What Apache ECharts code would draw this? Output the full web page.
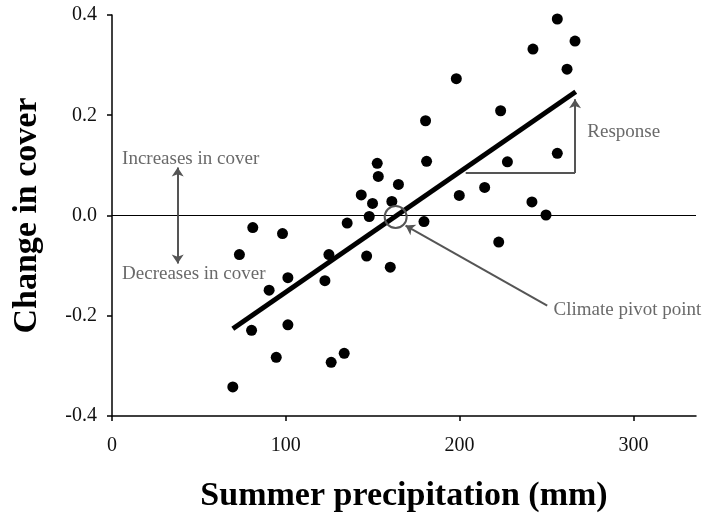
<!DOCTYPE html>
<html>
<head>
<meta charset="utf-8">
<script src="https://cdn.jsdelivr.net/npm/echarts@6/dist/echarts.min.js"></script>
<style>html,body{margin:0;padding:0;background:#fff}#c{width:702px;height:518px}</style>
</head>
<body>
<div id="c"></div>
<script>
// Data
const precip = [69.5, 73.3, 81.0, 80.3, 90.4, 94.5, 98.1, 101.2, 101.2, 126.1, 133.6, 122.5, 124.8, 135.3, 146.5, 148.0, 149.9, 160.1, 161.0, 152.6, 153.2, 143.4, 164.8, 256.2, 266.4, 242.2, 261.8, 198.1, 180.4, 223.6, 181.0, 227.5, 256.2, 214.4, 199.8, 241.6, 249.7, 179.5, 222.5];
const coverChange = [-0.342, -0.078, -0.024, -0.229, -0.149, -0.283, -0.036, -0.124, -0.218, -0.293, -0.275, -0.130, -0.078, -0.015, -0.081, -0.002, 0.024, -0.103, 0.028, 0.104, 0.078, 0.041, 0.062, 0.392, 0.348, 0.332, 0.292, 0.273, 0.189, 0.209, 0.108, 0.107, 0.124, 0.056, 0.040, 0.027, 0.001, -0.012, -0.053];
const fitX = [69.5, 266.8];
const fitY = [-0.226, 0.247];
const pivot = [163.2, -0.003];
const xTicks = [0, 100, 200, 300];
const yTicks = [-0.4, -0.2, 0.0, 0.2, 0.4];
const annotations = [
  {text: 'Increases in cover', x: 5.8, y: 0.112},
  {text: 'Decreases in cover', x: 5.8, y: -0.116},
  {text: 'Response', x: 273.5, y: 0.166},
  {text: 'Climate pivot point', x: 254, y: -0.189}
];

const pts = precip.map((x, i) => [x, coverChange[i]]);
const fit = fitX.map((x, i) => [x, fitY[i]]);
const gray = '#444';
const serif = '"Liberation Serif", "Times New Roman", serif';

const chart = echarts.init(document.getElementById('c'));
chart.setOption({
  animation: false,
  grid: {left: 112, right: 6, top: 15, bottom: 101, containLabel: false},
  xAxis: {
    type: 'value', min: 0, max: 336, interval: 100,
    axisLine: {onZero: false, lineStyle: {color: '#000', width: 1.5}},
    axisTick: {show: true, length: 5, inside: false, lineStyle: {color: '#000', width: 1.5}},
    splitLine: {show: false},
    axisLabel: {
      color: '#111', fontFamily: serif, fontSize: 20, margin: 20, showMaxLabel: false,
      formatter: v => xTicks.includes(v) ? String(v) : ''
    },
    name: 'Summer precipitation (mm)', nameLocation: 'middle', nameGap: 63,
    nameTextStyle: {fontFamily: serif, fontWeight: 'bold', fontSize: 34, color: '#000'}
  },
  yAxis: {
    type: 'value', min: -0.4, max: 0.4, interval: 0.2,
    axisLine: {show: true, onZero: false, lineStyle: {color: '#000', width: 1.5}},
    axisTick: {show: true, length: 5, lineStyle: {color: '#000', width: 1.5}},
    splitLine: {show: false},
    axisLabel: {
      color: '#111', fontFamily: serif, fontSize: 20, margin: 15,
      formatter: v => yTicks.some(t => Math.abs(t - v) < 1e-9) ? v.toFixed(1) : ''
    },
    name: 'Change in cover', nameLocation: 'middle', nameGap: 68,
    nameTextStyle: {fontFamily: serif, fontWeight: 'bold', fontSize: 34, color: '#000'}
  },
  series: [
    {
      type: 'scatter', data: pts, symbolSize: 11,
      itemStyle: {color: '#000', opacity: 1}, z: 3,
      markLine: {
        silent: true, symbol: 'none',
        lineStyle: {color: '#000', width: 1, type: 'solid'},
        label: {show: false},
        data: [{yAxis: 0}]
      }
    },
    {
      type: 'line', data: fit, symbol: 'none',
      lineStyle: {color: '#000', width: 5}, z: 4
    },
    {
      type: 'scatter', data: [pivot], symbolSize: 22, z: 5,
      itemStyle: {color: 'rgba(0,0,0,0)', borderColor: '#555', borderWidth: 2, opacity: 1},
      markLine: {
        silent: true, symbol: ['none', 'arrow'], symbolSize: 9,
        lineStyle: {color: '#555', width: 2, type: 'solid'},
        label: {show: false},
        data: [
          [{coord: [37.8, 0]}, {coord: [37.8, 0.096]}],
          [{coord: [37.8, 0]}, {coord: [37.8, -0.096]}],
          [{coord: [250.4, -0.180]}, {coord: [168.9, -0.020]}],
          [{coord: [266.4, 0.085]}, {coord: [266.4, 0.232]}],
          [{coord: [203.5, 0.085], symbol: 'none'}, {coord: [266.4, 0.085], symbol: 'none'}]
        ]
      }
    },
    {
      type: 'scatter', symbolSize: 0, z: 6, silent: true,
      data: annotations.map(a => ({value: [a.x, a.y], name: a.text})),
      itemStyle: {color: 'rgba(0,0,0,0)'},
      label: {
        show: true, position: 'right', distance: 0, formatter: p => p.name,
        fontFamily: serif, fontSize: 19, color: gray, align: 'left', verticalAlign: 'middle'
      }
    }
  ]
});
</script>
</body>
</html>
